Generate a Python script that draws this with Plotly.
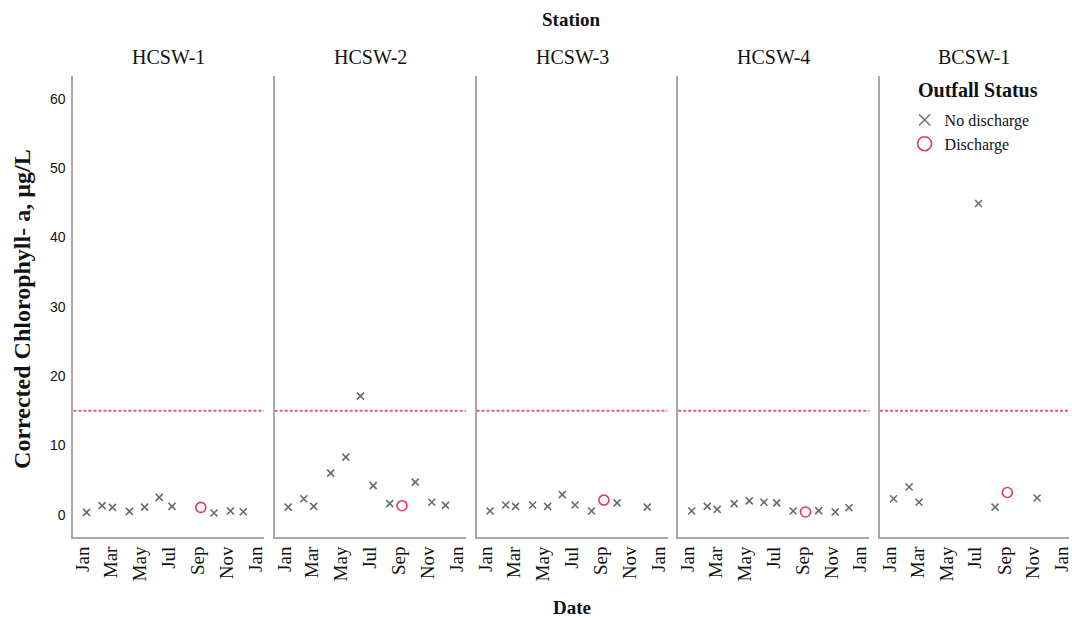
import pandas as pd
import plotly.graph_objects as go
from plotly.subplots import make_subplots

# ---------------- data ----------------
stations = ["HCSW-1", "HCSW-2", "HCSW-3", "HCSW-4", "BCSW-1"]

hcsw1_dates = ["2021-01-08", "2021-02-10", "2021-03-04", "2021-04-09", "2021-05-11", "2021-06-11",
               "2021-07-08", "2021-09-07", "2021-10-05", "2021-11-09", "2021-12-06"]
hcsw1_vals = [0.33, 1.3, 1.05, 0.48, 1.1, 2.5, 1.2, 1.05, 0.24, 0.53, 0.43]
hcsw1_status = ["N", "N", "N", "N", "N", "N", "N", "D", "N", "N", "N"]

hcsw2_dates = ["2021-01-09", "2021-02-11", "2021-03-04", "2021-04-09", "2021-05-11", "2021-06-11",
               "2021-07-08", "2021-08-12", "2021-09-07", "2021-10-05", "2021-11-09", "2021-12-08"]
hcsw2_vals = [1.1, 2.3, 1.2, 6.0, 8.3, 17.1, 4.2, 1.6, 1.3, 4.7, 1.8, 1.35]
hcsw2_status = ["N", "N", "N", "N", "N", "N", "N", "N", "D", "N", "N", "N"]

hcsw3_dates = ["2021-01-09", "2021-02-11", "2021-03-04", "2021-04-09", "2021-05-11", "2021-06-11",
               "2021-07-08", "2021-08-12", "2021-09-07", "2021-10-05", "2021-12-08"]
hcsw3_vals = [0.53, 1.4, 1.2, 1.4, 1.2, 2.9, 1.4, 0.53, 2.1, 1.7, 1.1]
hcsw3_status = ["N", "N", "N", "N", "N", "N", "N", "N", "D", "N", "N"]

hcsw4_dates = ["2021-01-09", "2021-02-11", "2021-03-04", "2021-04-09", "2021-05-11", "2021-06-11",
               "2021-07-08", "2021-08-12", "2021-09-07", "2021-10-05", "2021-11-09", "2021-12-08"]
hcsw4_vals = [0.53, 1.2, 0.77, 1.6, 2.0, 1.8, 1.7, 0.53, 0.39, 0.58, 0.39, 1.0]
hcsw4_status = ["N", "N", "N", "N", "N", "N", "N", "N", "D", "N", "N", "N"]

bcsw1_dates = ["2021-01-09", "2021-02-11", "2021-03-04", "2021-07-08", "2021-08-12", "2021-09-07",
               "2021-11-09"]
bcsw1_vals = [2.3, 4.0, 1.8, 44.9, 1.1, 3.2, 2.4]
bcsw1_status = ["N", "N", "N", "N", "N", "D", "N"]

threshold = 15
y_ticks = [0, 10, 20, 30, 40, 50, 60]

series = [
    (hcsw1_dates, hcsw1_vals, hcsw1_status),
    (hcsw2_dates, hcsw2_vals, hcsw2_status),
    (hcsw3_dates, hcsw3_vals, hcsw3_status),
    (hcsw4_dates, hcsw4_vals, hcsw4_status),
    (bcsw1_dates, bcsw1_vals, bcsw1_status),
]

# ---------------- layout constants ----------------
OFF = 0                       # body margin removed by the page script below
W, H = 1072 - OFF, 618 - OFF
M_T, M_B = 76 - OFF, 81
plot_h = H - M_T - M_B
panels_px = [(72.7, 264.0), (274.7, 466.7), (477.3, 669.0), (679.7, 871.5), (882.3, 1072.0)]
px_per_day = 0.474
jan_offset_px = 9.8


def px_x(X):
    return (X - OFF) / W


def px_y(Y):
    return (H - M_B - (Y - OFF)) / plot_h


SERIF = "Liberation Serif, Times New Roman, serif"
SANS = "Arial, Liberation Sans, sans-serif"
GRAY_X = "#656d6d"
RED = "#e8385f"
LINE_RED = "#e85a78"
AXIS = "#a8a8a8"

fig = make_subplots(rows=1, cols=5, shared_yaxes=False)

for i, (dates, vals, stat) in enumerate(series):
    col = i + 1
    nd_x = [d for d, s in zip(dates, stat) if s == "N"]
    nd_y = [v for v, s in zip(vals, stat) if s == "N"]
    d_x = [d for d, s in zip(dates, stat) if s == "D"]
    d_y = [v for v, s in zip(vals, stat) if s == "D"]
    fig.add_trace(go.Scatter(
        x=nd_x, y=nd_y, mode="markers", name="No discharge", legendgroup="nd",
        showlegend=False,
        marker=dict(symbol="x-thin", size=7, color=GRAY_X, line=dict(color=GRAY_X, width=1.6)),
    ), row=1, col=col)
    fig.add_trace(go.Scatter(
        x=d_x, y=d_y, mode="markers", name="Discharge", legendgroup="d",
        showlegend=False,
        marker=dict(symbol="circle-open", size=10, color=RED, line=dict(color=RED, width=1.6)),
    ), row=1, col=col)

# legend-only entries (larger symbols, like the reference key)
fig.add_trace(go.Scatter(x=[None], y=[None], mode="markers", name="No discharge",
                         legendgroup="nd", showlegend=True,
                         marker=dict(symbol="x-thin", size=11, color="#7a7f7f",
                                     line=dict(color="#7a7f7f", width=1.6))), row=1, col=5)
fig.add_trace(go.Scatter(x=[None], y=[None], mode="markers", name="Discharge",
                         legendgroup="d", showlegend=True,
                         marker=dict(symbol="circle-open", size=14, color=RED,
                                     line=dict(color=RED, width=1.6))), row=1, col=5)

jan1 = pd.Timestamp("2021-01-01")
for i, (x0p, x1p) in enumerate(panels_px):
    n = "" if i == 0 else str(i + 1)
    start = jan1 - pd.Timedelta(days=jan_offset_px / px_per_day)
    end = start + pd.Timedelta(days=(x1p - x0p) / px_per_day)
    fig.layout["xaxis" + n].update(
        domain=[px_x(x0p), min(px_x(x1p), 1.0)],
        type="date", range=[start, end],
        tick0="2021-01-01", dtick="M2", tickformat="%b", tickangle=-90,
        showgrid=False, zeroline=False, showline=True, linecolor=AXIS, linewidth=2,
        ticks="", ticklabeloverflow="allow",
        tickfont=dict(family=SERIF, size=19, color="#111111"),
    )
    fig.layout["yaxis" + n].update(
        domain=[0, 1], range=[-3.22, 63.3], tickvals=y_ticks,
        showticklabels=(i == 0), showgrid=False, zeroline=False,
        showline=True, linecolor=AXIS, linewidth=2, ticks="", ticklabelstandoff=3,
        tickfont=dict(family=SANS, size=14, color="#111111"),
    )
    fig.add_shape(type="line", xref=("x" + n) + " domain", yref="y" + n,
                  x0=0, x1=1, y0=threshold, y1=threshold,
                  line=dict(color=LINE_RED, width=2, dash="3px,2px"))
    fig.add_annotation(text=stations[i], xref="paper", yref="paper",
                       x=px_x((x0p + x1p) / 2 if i < 4 else 977), y=px_y(57),
                       showarrow=False, xanchor="center", yanchor="middle",
                       font=dict(family=SERIF, size=20, color="#111111"))

fig.add_annotation(text="Station", xref="paper", yref="paper",
                   x=px_x(573), y=px_y(20), showarrow=False,
                   xanchor="center", yanchor="middle",
                   font=dict(family=SERIF, size=19, color="#111111", weight="bold"))
fig.add_annotation(text="Date", xref="paper", yref="paper",
                   x=px_x(573), y=px_y(607), showarrow=False,
                   xanchor="center", yanchor="middle",
                   font=dict(family=SERIF, size=19, color="#111111", weight="bold"))
fig.add_annotation(text="Corrected Chlorophyll- a, µg/L", xref="paper", yref="paper",
                   x=px_x(21), y=px_y(309), showarrow=False, textangle=-90,
                   xanchor="center", yanchor="middle",
                   font=dict(family=SERIF, size=24, color="#111111", weight="bold"))
fig.add_annotation(text="Outfall Status", xref="paper", yref="paper",
                   x=px_x(918), y=px_y(90), showarrow=False,
                   xanchor="left", yanchor="middle",
                   font=dict(family=SERIF, size=20, color="#111111", weight="bold"))

fig.update_layout(
    width=W, height=H, autosize=False,
    margin=dict(l=0, r=0, t=M_T, b=M_B, pad=0),
    paper_bgcolor="white", plot_bgcolor="white",
    showlegend=True,
    legend=dict(
        x=px_x(907), y=px_y(103), xanchor="left", yanchor="top",
        bgcolor="rgba(0,0,0,0)", itemwidth=30,
        font=dict(family=SERIF, size=16, color="#111111"),
        tracegroupgap=0,
    ),
)

fig.write_html("out.html", config={"displayModeBar": False},
               post_script="document.body.style.margin='0';document.body.style.overflow='hidden';")
